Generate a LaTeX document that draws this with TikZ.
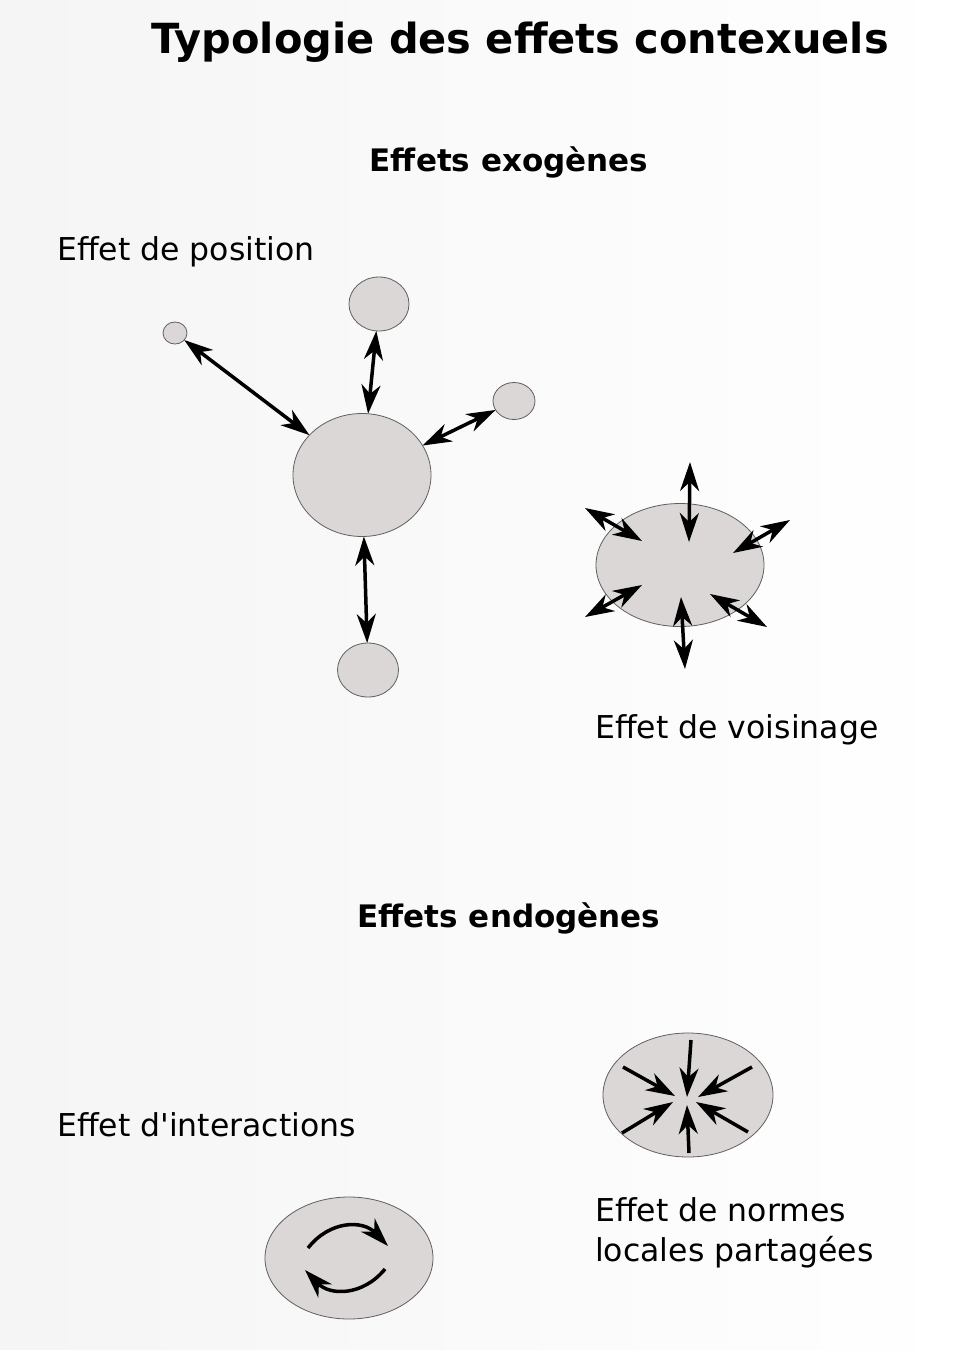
\documentclass[tikz,border=0pt]{standalone}
\usepackage{fontspec}
\setmainfont{DejaVu Sans}[Ligatures=TeXOff]
\usetikzlibrary{shapes.geometric,arrows.meta}

\definecolor{gris}{RGB}{220,215,215}
\definecolor{bord}{RGB}{95,95,95}

\begin{document}
\begin{tikzpicture}[x=1pt, y=-1pt,
    bulle/.style={shape=ellipse, draw=bord, line width=0.8pt, fill=gris, inner sep=0pt, outer sep=0pt},
    fleche/.style={line width=3.5pt, {Stealth[length=29pt, width=19pt, inset=9pt]}-{Stealth[length=29pt, width=19pt, inset=9pt]}},
    pointe/.style={line width=3.5pt, -{Stealth[length=29pt, width=19pt, inset=9pt]}},
    titre/.style={font=\fontsize{41.5}{48}\selectfont\bfseries, inner sep=0pt},
    soustitre/.style={font=\fontsize{31}{38}\selectfont\bfseries, inner sep=0pt},
    etiquette/.style={font=\fontsize{31.5}{40}\selectfont, inner sep=0pt, align=left}]

  % fond
  \shade[left color=black!4, right color=white] (0,0) rectangle (962,1350);
  \useasboundingbox (0,0) rectangle (962,1350);

  \node[titre, anchor=base] (titre) at (520,53) {Typologie des effets contexuels};
  \node[soustitre, anchor=base] (exo) at (509,171) {Effets exogènes};
  \node[soustitre, anchor=base] (endo) at (509,927) {Effets endogènes};

  % effet de position
  \node[etiquette, anchor=base west] (lpos) at (57,260) {Effet de position};
  \node[bulle, minimum width=138pt, minimum height=123pt] (centre) at (362,475) {};
  \node[bulle, minimum width=24pt, minimum height=22pt] (p1) at (175,333) {};
  \node[bulle, minimum width=60pt, minimum height=54pt] (p2) at (379,304) {};
  \node[bulle, minimum width=42pt, minimum height=37pt] (p3) at (514,401) {};
  \node[bulle, minimum width=61pt, minimum height=54pt] (p4) at (368,670) {};

  \draw[fleche] (p1) to (centre);
  \draw[fleche] (p2) to (centre);
  \draw[fleche] (p3) to (centre);
  \draw[fleche] (centre) to (p4);

  % effet de voisinage
  \node[etiquette, anchor=base west] (lvois) at (595,738) {Effet de voisinage};
  \node[bulle, minimum width=168pt, minimum height=123pt] (vois) at (680,565) {};

  \coordinate (v1o) at (690,462); \coordinate (v1i) at (689,542);
  \coordinate (v2o) at (585,508); \coordinate (v2i) at (642,541);
  \coordinate (v3o) at (790,520); \coordinate (v3i) at (733,553);
  \coordinate (v4o) at (585,617); \coordinate (v4i) at (642,585);
  \coordinate (v5o) at (685,669); \coordinate (v5i) at (681,597);
  \coordinate (v6o) at (767,627); \coordinate (v6i) at (710,594);

  \draw[fleche] (v1o) to (v1i);
  \draw[fleche] (v2o) to (v2i);
  \draw[fleche] (v3o) to (v3i);
  \draw[fleche] (v4o) to (v4i);
  \draw[fleche] (v5o) to (v5i);
  \draw[fleche] (v6o) to (v6i);

  % effet d'interactions
  \node[etiquette, anchor=base west] (linter) at (57,1136) {Effet d'interactions};
  \node[bulle, minimum width=168pt, minimum height=122pt] (inter) at (349,1258) {};

  \coordinate (i1a) at (308,1248); \coordinate (i1b) at (388,1246);
  \coordinate (i2a) at (385,1269); \coordinate (i2b) at (305,1270);

  \draw[pointe] (i1a) .. controls (330,1220) and (363,1220) .. (i1b);
  \draw[pointe] (i2a) .. controls (363,1296) and (330,1296) .. (i2b);

  % effet de normes
  \node[etiquette, anchor=base west] (lnorm) at (595,1261) {Effet de normes\\locales partagées};
  \node[bulle, minimum width=170pt, minimum height=124pt] (norm) at (688,1095) {};

  \coordinate (n1a) at (691,1040); \coordinate (n1b) at (687,1097);
  \coordinate (n2a) at (623,1067); \coordinate (n2b) at (675,1096);
  \coordinate (n3a) at (752,1067); \coordinate (n3b) at (698,1097);
  \coordinate (n4a) at (622,1133); \coordinate (n4b) at (673,1102);
  \coordinate (n5a) at (689,1153); \coordinate (n5b) at (687,1105);
  \coordinate (n6a) at (748,1132); \coordinate (n6b) at (696,1102);

  \draw[pointe] (n1a) to (n1b);
  \draw[pointe] (n2a) to (n2b);
  \draw[pointe] (n3a) to (n3b);
  \draw[pointe] (n4a) to (n4b);
  \draw[pointe] (n5a) to (n5b);
  \draw[pointe] (n6a) to (n6b);
\end{tikzpicture}
\end{document}
